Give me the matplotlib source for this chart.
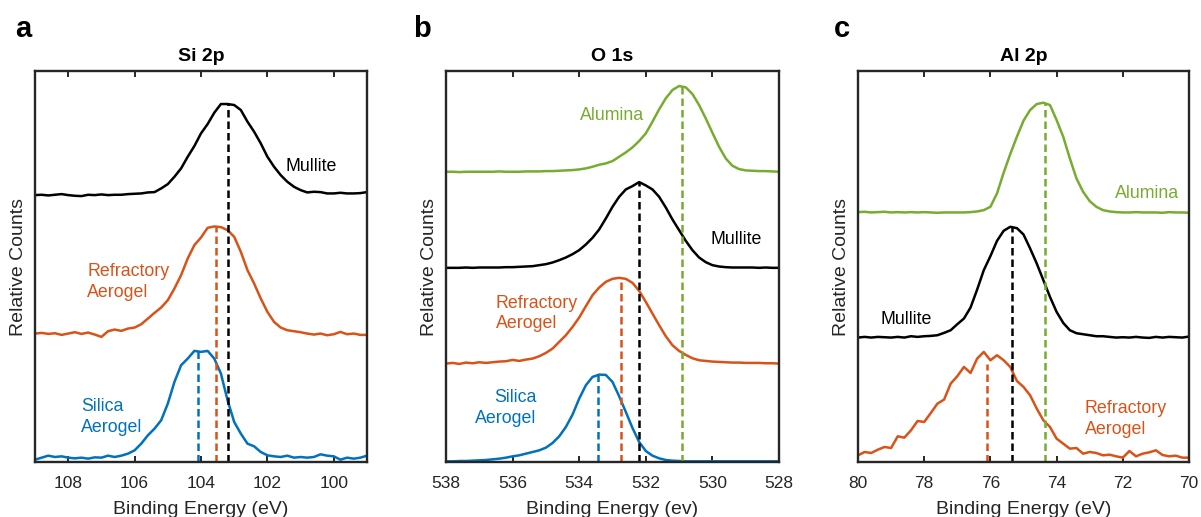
import numpy as np
import matplotlib
matplotlib.use("Agg")
import matplotlib.pyplot as plt

plt.rcParams['font.family'] = ['Liberation Sans', 'DejaVu Sans']

# ---------------- data ----------------
# Panel a: Si 2p  (energy grid 109 -> 99 eV, 0.2 eV step)
si_energy = [109.0 - 0.2 * i for i in range(51)]
si_mullite = [80.0, 80.1, 79.9, 80.1, 80.3, 80.0, 79.8, 79.7, 80.1, 80.0,
              80.2, 80.0, 80.1, 80.1, 80.3, 80.4, 80.5, 80.8, 80.9, 82.0,
              83.3, 85.5, 88.0, 91.5, 94.7, 98.5, 101.3, 104.7, 107.3, 107.3,
              107.0, 105.5, 102.0, 99.0, 95.5, 91.5, 88.5, 86.0, 84.0, 82.5,
              81.5, 80.8, 81.0, 80.9, 80.5, 80.5, 80.7, 80.5, 80.5, 80.6, 80.9]
si_refractory = [38.5, 38.7, 38.4, 38.6, 38.1, 38.5, 38.9, 38.4, 38.8, 38.2,
                 37.5, 39.2, 39.7, 39.3, 40.0, 40.3, 41.3, 43.0, 44.7, 46.3,
                 48.5, 52.0, 56.0, 61.0, 65.0, 67.3, 70.2, 70.6, 70.4, 69.5,
                 67.5, 63.0, 57.5, 53.5, 49.0, 45.0, 42.0, 40.3, 39.5, 39.2,
                 38.9, 38.5, 38.2, 38.5, 38.0, 38.3, 39.0, 38.3, 38.5, 38.1, 38.1]
si_silica = [0.7, 1.3, 1.9, 1.5, 1.7, 1.3, 1.1, 1.3, 1.0, 1.4,
             1.3, 1.9, 1.5, 1.9, 2.5, 3.5, 5.5, 8.0, 10.0, 12.5,
             17.5, 24.0, 29.0, 31.0, 33.3, 33.0, 33.3, 31.0, 26.5, 18.5,
             12.0, 8.5, 5.5, 4.7, 3.0, 2.0, 1.7, 1.5, 1.9, 1.3,
             1.5, 1.3, 1.5, 2.3, 1.9, 1.7, 0.7, 1.3, 1.0, 1.3, 1.9]
si_peak_pos = [103.2, 103.55, 104.1]       # mullite, refractory, silica
si_peak_top = [107.5, 70.5, 33.2]

# Panel b: O 1s  (energy grid 538 -> 528 eV, 0.2 eV step)
o_energy = [538.0 - 0.2 * i for i in range(51)]
o_alumina = [87.0, 87.0, 86.9, 87.0, 87.0, 87.0, 87.0, 87.0, 87.1, 87.0,
             87.0, 87.0, 87.1, 87.1, 87.1, 87.2, 87.2, 87.3, 87.4, 87.5,
             87.7, 88.0, 88.5, 89.1, 89.5, 90.2, 91.5, 92.8, 94.3, 96.2,
             98.5, 102.0, 105.7, 109.0, 111.5, 112.7, 112.3, 110.3, 107.0, 103.0,
             98.7, 94.5, 91.0, 88.8, 87.8, 87.4, 87.3, 87.2, 87.2, 87.1, 87.0]
o_mullite = [58.2, 58.2, 58.2, 58.3, 58.2, 58.3, 58.3, 58.3, 58.3, 58.4,
             58.4, 58.5, 58.6, 58.7, 59.0, 59.3, 59.8, 60.5, 61.3, 62.3,
             63.5, 65.2, 67.2, 69.7, 73.0, 76.5, 79.5, 81.7, 82.7, 83.9,
             82.9, 81.7, 79.5, 76.3, 72.7, 69.5, 66.3, 63.5, 61.3, 59.9,
             59.0, 58.6, 58.4, 58.3, 58.3, 58.3, 58.3, 58.2, 58.3, 58.2, 58.2]
o_refractory = [29.5, 29.7, 29.4, 29.8, 29.6, 29.9, 29.7, 29.9, 30.1, 30.2,
                30.6, 30.3, 30.7, 31.0, 31.7, 32.7, 34.0, 36.0, 38.0, 40.5,
                43.3, 46.7, 50.0, 52.3, 54.0, 54.9, 55.2, 54.9, 53.7, 51.3,
                48.0, 44.5, 41.0, 37.7, 35.0, 33.3, 32.1, 31.1, 30.5, 30.3,
                30.1, 30.0, 29.9, 29.8, 29.8, 29.7, 29.7, 29.7, 29.6, 29.6, 29.5]
o_silica = [0.2, 0.2, 0.3, 0.3, 0.4, 0.5, 0.6, 0.8, 1.0, 1.3,
            1.7, 2.0, 2.5, 3.0, 3.5, 4.3, 5.7, 7.7, 10.5, 14.2,
            19.0, 23.0, 25.5, 26.2, 26.1, 24.0, 19.7, 15.0, 10.2, 6.0,
            3.3, 1.9, 1.1, 0.6, 0.4, 0.3, 0.2, 0.2, 0.2, 0.2,
            0.2, 0.2, 0.2, 0.2, 0.2, 0.2, 0.2, 0.2, 0.2, 0.2, 0.2]
o_peak_pos = [530.9, 532.2, 532.75, 533.45]  # alumina, mullite, refractory, silica
o_peak_top = [112.7, 83.9, 55.2, 26.2]

# Panel c: Al 2p  (energy grid 80 -> 70 eV, 0.2 eV step)
al_energy = [80.0 - 0.2 * i for i in range(51)]
al_alumina = [74.9, 75.0, 74.8, 74.9, 75.0, 74.8, 74.9, 74.8, 74.9, 74.8,
              74.9, 74.8, 74.7, 74.8, 74.8, 74.8, 74.8, 74.9, 75.1, 75.5,
              76.5, 80.5, 86.7, 92.3, 97.5, 102.3, 105.5, 107.3, 107.7, 107.0,
              102.5, 97.5, 91.0, 85.0, 81.0, 78.2, 76.5, 75.5, 75.1, 74.9,
              74.8, 74.8, 74.9, 74.8, 74.8, 74.8, 74.7, 74.9, 74.8, 74.8, 74.7]
al_mullite = [37.3, 37.5, 37.3, 37.5, 37.4, 37.3, 37.5, 37.3, 37.7, 37.5,
              37.7, 37.8, 38.0, 38.7, 39.5, 41.3, 43.0, 46.3, 51.7, 57.5,
              61.7, 66.3, 69.3, 70.5, 70.1, 68.2, 64.0, 59.5, 54.5, 49.5,
              45.0, 41.7, 39.5, 38.6, 38.3, 38.0, 37.7, 37.7, 37.5, 37.3,
              37.4, 37.3, 37.5, 37.3, 37.2, 37.5, 37.3, 37.5, 37.4, 37.3, 37.6]
al_refractory = [2.0, 3.0, 2.7, 3.7, 4.5, 4.2, 7.7, 7.3, 9.5, 12.3,
                 12.0, 14.7, 17.5, 18.7, 23.5, 25.7, 28.5, 26.7, 31.0, 33.0,
                 30.5, 32.0, 30.5, 28.5, 24.3, 22.5, 20.0, 16.0, 12.5, 10.5,
                 7.0, 5.5, 4.0, 4.2, 2.5, 3.0, 2.7, 2.0, 2.2, 1.7,
                 1.3, 3.3, 1.7, 2.5, 2.9, 3.5, 2.1, 1.7, 1.9, 1.3, 1.3]
al_peak_pos = [74.35, 75.35, 76.1]           # alumina, mullite, refractory
al_peak_top = [107.7, 70.5, 29.5]

C_BLACK = '#000000'
C_ORANGE = '#D95319'
C_BLUE = '#0072BD'
C_GREEN = '#77AC30'

# ---------------- figure ----------------
W, H = 1201, 517
fig = plt.figure(figsize=(W / 100, H / 100), dpi=100)

def px_axes(left, right, top=71, bottom=462):
    return fig.add_axes([left / W, 1 - bottom / H, (right - left) / W, (bottom - top) / H])

ax_a = px_axes(35, 367)
ax_b = px_axes(446, 779)
ax_c = px_axes(858, 1189)

LW = 1.8
DASH = (3.0, 1.6)
YMAX = 117.2

def style(ax, xlim, ticks, title, xlabel):
    ax.set_xlim(*xlim)
    ax.set_ylim(0, YMAX)
    ax.set_xticks(ticks)
    ax.set_yticks([])
    ax.tick_params(axis='x', direction='in', top=True, bottom=True, length=4,
                   width=1.4, labelsize=12.5, pad=10, colors='#262626', labelcolor='#262626')
    for s in ax.spines.values():
        s.set_linewidth(1.7)
        s.set_color('#262626')
    ax.set_title(title, fontsize=14, fontweight='bold', pad=7)
    ax.set_xlabel(xlabel, fontsize=14, labelpad=7, color='#262626')
    ax.set_ylabel('Relative Counts', fontsize=14, labelpad=6, color='#262626')

TXT = 12.8

# Panel a
ax = ax_a
for y, c in [(si_mullite, C_BLACK), (si_refractory, C_ORANGE), (si_silica, C_BLUE)]:
    ax.plot(si_energy, y, color=c, lw=LW)
for xp, yt, c in zip(si_peak_pos, si_peak_top, [C_BLACK, C_ORANGE, C_BLUE]):
    ax.plot([xp, xp], [0, yt], color=c, lw=LW, dashes=DASH)
style(ax, (109, 99), [108, 106, 104, 102, 100], 'Si 2p', 'Binding Energy (eV)')
ax.text(101.46, 88.5, 'Mullite', color=C_BLACK, fontsize=TXT, ha='left', va='center')
ax.text(107.42, 54.0, 'Refractory\nAerogel', color=C_ORANGE, fontsize=TXT, ha='left',
        va='center', linespacing=1.3)
ax.text(107.61, 13.5, 'Silica\nAerogel', color=C_BLUE, fontsize=TXT, ha='left',
        va='center', linespacing=1.3)

# Panel b
ax = ax_b
for y, c in [(o_alumina, C_GREEN), (o_mullite, C_BLACK), (o_refractory, C_ORANGE), (o_silica, C_BLUE)]:
    ax.plot(o_energy, y, color=c, lw=LW)
for xp, yt, c in zip(o_peak_pos, o_peak_top, [C_GREEN, C_BLACK, C_ORANGE, C_BLUE]):
    ax.plot([xp, xp], [0, yt], color=c, lw=LW, dashes=DASH)
style(ax, (538, 528), [538, 536, 534, 532, 530, 528], 'O 1s', 'Binding Energy (ev)')
ax.text(533.97, 104.0, 'Alumina', color=C_GREEN, fontsize=TXT, ha='left', va='center')
ax.text(530.07, 66.7, 'Mullite', color=C_BLACK, fontsize=TXT, ha='left', va='center')
ax.text(536.5, 44.5, 'Refractory\nAerogel', color=C_ORANGE, fontsize=TXT, ha='left',
        va='center', linespacing=1.3)
ax.text(535.29, 16.2, 'Silica\nAerogel', color=C_BLUE, fontsize=TXT, ha='right',
        va='center', linespacing=1.3, multialignment='right')

# Panel c
ax = ax_c
for y, c in [(al_alumina, C_GREEN), (al_mullite, C_BLACK), (al_refractory, C_ORANGE)]:
    ax.plot(al_energy, y, color=c, lw=LW)
for xp, yt, c in zip(al_peak_pos, al_peak_top, [C_GREEN, C_BLACK, C_ORANGE]):
    ax.plot([xp, xp], [0, yt], color=c, lw=LW, dashes=DASH)
style(ax, (80, 70), [80, 78, 76, 74, 72, 70], 'Al 2p', 'Binding Energy (eV)')
ax.text(72.24, 80.5, 'Alumina', color=C_GREEN, fontsize=TXT, ha='left', va='center')
ax.text(79.33, 42.7, 'Mullite', color=C_BLACK, fontsize=TXT, ha='left', va='center')
ax.text(73.15, 12.8, 'Refractory\nAerogel', color=C_ORANGE, fontsize=TXT, ha='left',
        va='center', linespacing=1.3)

# panel letters
for x, s in [(15, 'a'), (413, 'b'), (834, 'c')]:
    fig.text(x / W, 1 - 37 / H, s, fontsize=21, fontweight='bold', ha='left', va='baseline')

fig.savefig('out.png', dpi=100)
